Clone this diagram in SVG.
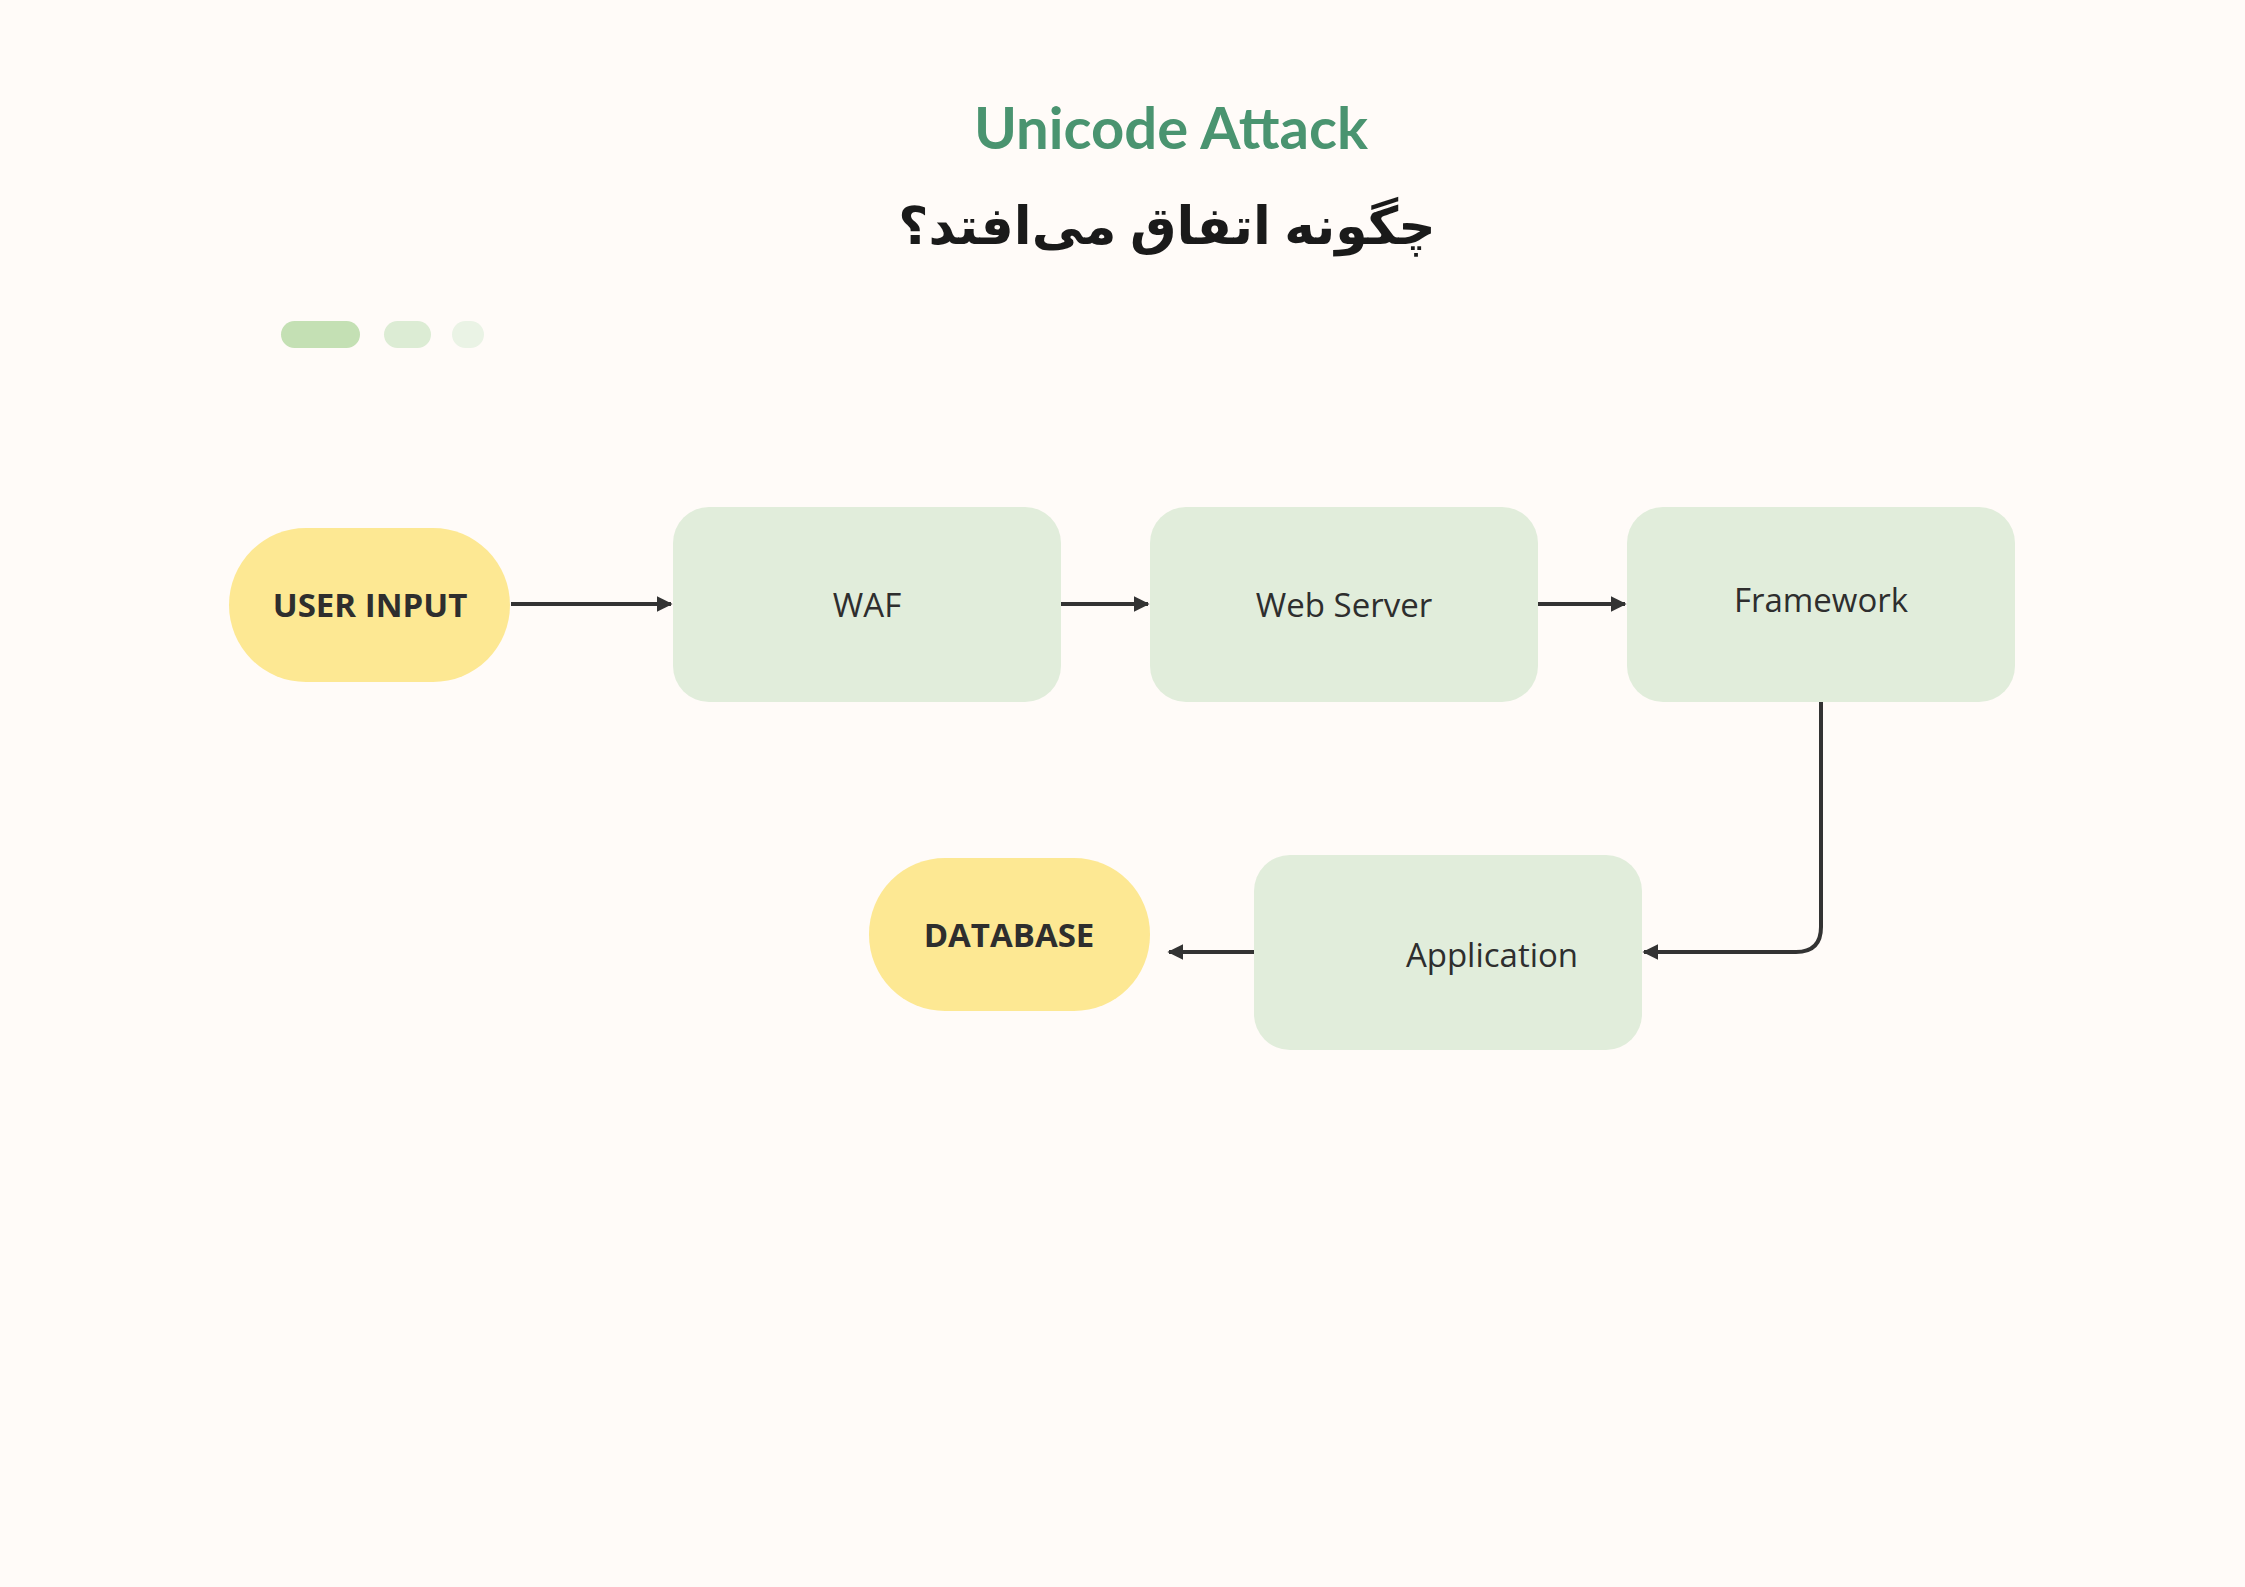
<svg xmlns="http://www.w3.org/2000/svg" width="2245" height="1587" viewBox="0 0 2245 1587">
<style>
.box{fill:#e1eddb}
.term{fill:#fde893}
.lbl{font-family:"Open Sans","Liberation Sans",sans-serif;font-size:33px;fill:#2e2e2e;text-anchor:middle;dominant-baseline:central}
.b{font-weight:700}
.c{fill:none;stroke:#333;stroke-width:4}
</style>
<defs><marker id="ah" viewBox="0 0 10 10" refX="9" refY="5" markerWidth="4" markerHeight="4" orient="auto"><path d="M0,0L10,5L0,10z" fill="#333"/></marker></defs>
<rect width="2245" height="1587" fill="#fffbf8"/>
<text x="1171" y="149" font-family="Lato,'Liberation Sans',sans-serif" font-weight="700" font-size="58" fill="#4a9470" text-anchor="middle">Unicode Attack</text>
<text x="1167" y="244" font-family="'Noto Sans','DejaVu Sans',sans-serif" font-weight="700" font-size="52" fill="#1a1a1a" text-anchor="middle" direction="rtl">چگونه اتفاق می‌افتد؟</text>
<rect x="281" y="321" width="79" height="27" rx="13.5" fill="#c4e0b4"/>
<rect x="384" y="321" width="47" height="27" rx="13.5" fill="#dcecd4"/>
<rect x="452" y="321" width="32" height="27" rx="13.5" fill="#eaf3e5"/>
<g id="connectors">
<path class="c" d="M511 604H671" marker-end="url(#ah)"/>
<path class="c" d="M1061 604H1148" marker-end="url(#ah)"/>
<path class="c" d="M1538 604H1625" marker-end="url(#ah)"/>
<path class="c" d="M1821 702V927Q1821 952 1796 952H1644" marker-end="url(#ah)"/>
<path class="c" d="M1254 952H1169" marker-end="url(#ah)"/>
</g>
<g id="user-input"><rect class="term" x="229" y="528" width="281" height="154" rx="77"/><text class="lbl b" x="370" y="604">USER INPUT</text></g>
<g id="waf"><rect class="box" x="673" y="507" width="388" height="195" rx="36"/><text class="lbl" x="867" y="604">WAF</text></g>
<g id="web-server"><rect class="box" x="1150" y="507" width="388" height="195" rx="36"/><text class="lbl" x="1344" y="604">Web Server</text></g>
<g id="framework"><rect class="box" x="1627" y="507" width="388" height="195" rx="36"/><text class="lbl" x="1821" y="599">Framework</text></g>
<g id="application"><rect class="box" x="1254" y="855" width="388" height="195" rx="36"/><text class="lbl" x="1492" y="954">Application</text></g>
<g id="database"><rect class="term" x="869" y="858" width="281" height="153" rx="76"/><text class="lbl b" x="1009" y="934">DATABASE</text></g>
</svg>
